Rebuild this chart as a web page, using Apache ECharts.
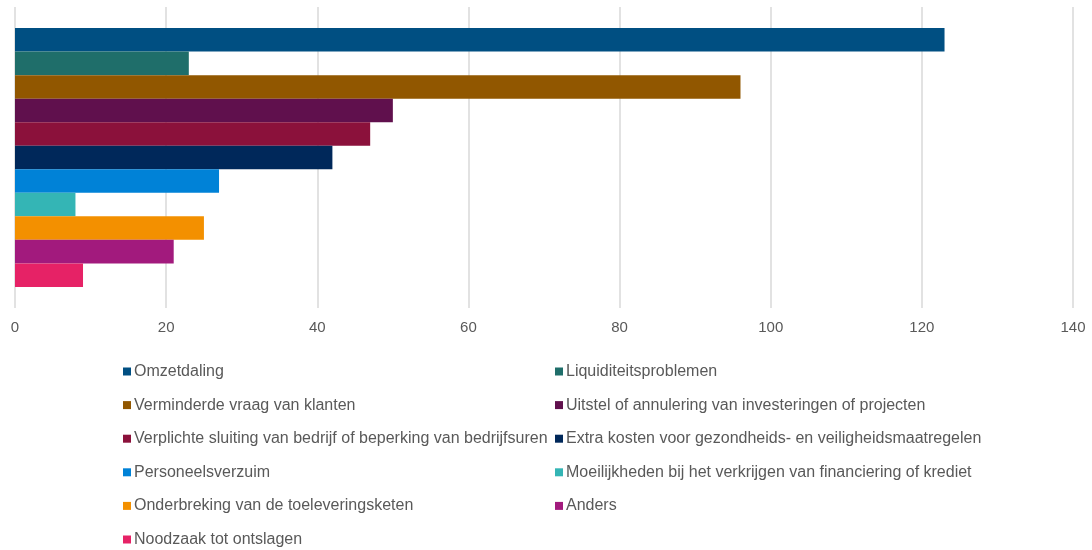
<!DOCTYPE html>
<html>
<head>
<meta charset="utf-8">
<script src="https://cdn.jsdelivr.net/npm/echarts@6/dist/echarts.min.js"></script>
<style>
  html, body { margin: 0; padding: 0; background: #fff; }
  #chart { width: 1092px; height: 550px; }
</style>
</head>
<body>
<div id="chart"></div>
<script>
// reeksen (één balk per reeks)
var seriesNames = [
    'Omzetdaling',
    'Liquiditeitsproblemen',
    'Verminderde vraag van klanten',
    'Uitstel of annulering van investeringen of projecten',
    'Verplichte sluiting van bedrijf of beperking van bedrijfsuren',
    'Extra kosten voor gezondheids- en veiligheidsmaatregelen',
    'Personeelsverzuim',
    'Moeilijkheden bij het verkrijgen van financiering of krediet',
    'Onderbreking van de toeleveringsketen',
    'Anders',
    'Noodzaak tot ontslagen'
];
var seriesValues = [123, 23, 96, 50, 47, 42, 27, 8, 25, 21, 9];
var seriesColors = ['#004f82', '#1f6e6a', '#915700', '#60104d', '#8b113b', '#00285a',
    '#0082d7', '#34b5b5', '#f39000', '#a21a7d', '#e62266'];
var categories = [''];
var axisTicks = [0, 20, 40, 60, 80, 100, 120, 140];

var textColor = '#595959';
var fontName = '"Liberation Sans", Arial, sans-serif';

var series = [];
for (let i = 0; i < seriesNames.length; i++) {
    series.push({
        name: seriesNames[i],
        type: 'bar',
        data: [seriesValues[i]],
        itemStyle: { color: seriesColors[i] },
        barGap: '0%',
        barCategoryGap: '14%'
    });
}

// legenda in twee kolommen
var leftNames = seriesNames.filter(function (n, i) { return i % 2 == 0; });
var rightNames = seriesNames.filter(function (n, i) { return i % 2 == 1; });
function makeLegend(names, left) {
    return {
        data: names,
        orient: 'vertical',
        left: left,
        top: 363,
        icon: 'rect',
        itemWidth: 8,
        itemHeight: 8,
        itemGap: 16.6,
        padding: 0,
        selectedMode: false,
        textStyle: { color: textColor, fontSize: 16, fontFamily: fontName, lineHeight: 17, padding: [0, 0, 0, -2] }
    };
}

var chart = echarts.init(document.getElementById('chart'));
var option = {
    animation: false,
    backgroundColor: '#fff',
    grid: { left: 15, right: 19, top: 7, bottom: 242, containLabel: false },
    legend: [makeLegend(leftNames, 123), makeLegend(rightNames, 555)],
    xAxis: {
        type: 'value',
        min: axisTicks[0],
        max: axisTicks[axisTicks.length - 1],
        interval: 20,
        axisLine: { show: false },
        axisTick: { show: false },
        axisLabel: { color: textColor, fontSize: 15, fontFamily: fontName, margin: 12 },
        splitLine: { lineStyle: { color: '#d9d9d9', width: 1.5 } }
    },
    yAxis: {
        type: 'category',
        data: categories,
        inverse: true,
        axisLine: { show: false },
        axisTick: { show: false },
        axisLabel: { show: false }
    },
    series: series
};
chart.setOption(option);
</script>
</body>
</html>
